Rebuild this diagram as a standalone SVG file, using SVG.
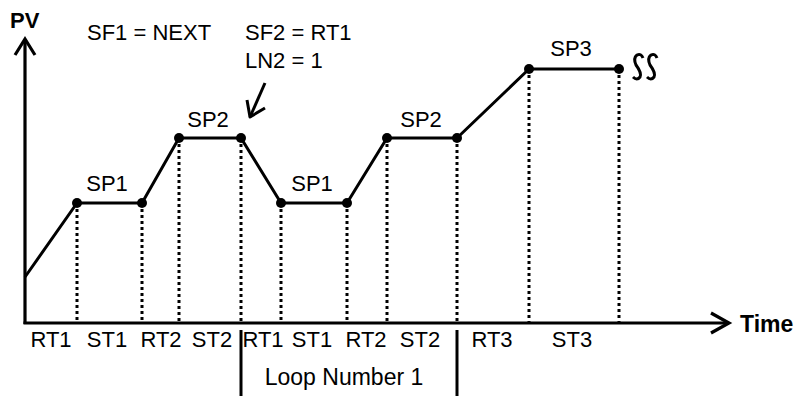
<svg xmlns="http://www.w3.org/2000/svg" width="799" height="396" viewBox="0 0 799 396">
<style>
.ax{fill:none;stroke:#000;stroke-width:3.2;stroke-linecap:butt;stroke-linejoin:miter}
.ln{fill:none;stroke:#000;stroke-width:3;stroke-linejoin:round}
.dot{fill:none;stroke:#000;stroke-width:3;stroke-dasharray:3 3}
.pt{fill:#000}
.t{font-family:"Liberation Sans",Arial,sans-serif;font-size:22px;fill:#000}
.c{text-anchor:middle}
.b{font-weight:bold}
</style>
<rect width="799" height="396" fill="#fff"/>
<g id="axes">
<line class="ax" x1="25" y1="324" x2="25" y2="39"/>
<polyline class="ax" points="15,55 25,39 35,55"/>
<line class="ax" x1="23.5" y1="323" x2="729" y2="323"/>
<polyline class="ax" points="711,313 729,323 711,333"/>
<text class="t b" x="10" y="28">PV</text>
<text class="t b" x="740" y="332" style="font-size:23px">Time</text>
</g>
<g id="guides">
<line class="dot" x1="77" y1="203" x2="77" y2="322"/>
<line class="dot" x1="142" y1="203" x2="142" y2="322"/>
<line class="dot" x1="179" y1="138" x2="179" y2="322"/>
<line class="dot" x1="241" y1="138" x2="241" y2="322"/>
<line class="dot" x1="281" y1="203" x2="281" y2="322"/>
<line class="dot" x1="347" y1="203" x2="347" y2="322"/>
<line class="dot" x1="387" y1="138" x2="387" y2="322"/>
<line class="dot" x1="457" y1="138" x2="457" y2="322"/>
<line class="dot" x1="529" y1="69" x2="529" y2="322"/>
<line class="dot" x1="619" y1="69" x2="619" y2="322"/>
</g>
<g id="profile">
<polyline class="ln" points="25,277 77,203 142,203 179,138 241,138 281,203 347,203 387,138 457,138 529,69 619,69"/>
<circle class="pt" cx="77" cy="203" r="5"/>
<circle class="pt" cx="142" cy="203" r="5"/>
<circle class="pt" cx="179" cy="138" r="5"/>
<circle class="pt" cx="241" cy="138" r="5"/>
<circle class="pt" cx="281" cy="203" r="5"/>
<circle class="pt" cx="347" cy="203" r="5"/>
<circle class="pt" cx="387" cy="138" r="5"/>
<circle class="pt" cx="457" cy="138" r="5"/>
<circle class="pt" cx="529" cy="69" r="5"/>
<circle class="pt" cx="619" cy="69" r="5"/>
</g>
<g id="break">
<path class="ln" d="M643,58 Q641,53 637,55 Q633,58 636,65 Q642,73 640,77 Q637,81 633,77"/>
<path class="ln" d="M657,58 Q655,53 651,55 Q647,58 650,65 Q656,73 654,77 Q651,81 647,77"/>
</g>
<g id="sp-labels">
<text class="t c" x="107" y="191">SP1</text>
<text class="t c" x="208" y="127">SP2</text>
<text class="t c" x="312" y="191">SP1</text>
<text class="t c" x="421" y="127">SP2</text>
<text class="t c" x="571" y="56">SP3</text>
</g>
<g id="annotations">
<text class="t" x="87" y="40">SF1 = NEXT</text>
<text class="t" x="245" y="40">SF2 = RT1</text>
<text class="t" x="245" y="68">LN2 = 1</text>
<line class="ln" x1="265" y1="83" x2="250" y2="117"/>
<polyline class="ln" points="247,100 250,117 265,108"/>
</g>
<g id="time-labels">
<text class="t c" x="51" y="347">RT1</text>
<text class="t c" x="107" y="347">ST1</text>
<text class="t c" x="161" y="347">RT2</text>
<text class="t c" x="212" y="347">ST2</text>
<text class="t c" x="263" y="347">RT1</text>
<text class="t c" x="312" y="347">ST1</text>
<text class="t c" x="366" y="347">RT2</text>
<text class="t c" x="420" y="347">ST2</text>
<text class="t c" x="492" y="347">RT3</text>
<text class="t c" x="572" y="347">ST3</text>
</g>
<g id="loop">
<line class="ln" x1="241" y1="330" x2="241" y2="396"/>
<line class="ln" x1="457" y1="330" x2="457" y2="396"/>
<text class="t c" x="344" y="385" style="font-size:23px">Loop Number 1</text>
</g>
</svg>
